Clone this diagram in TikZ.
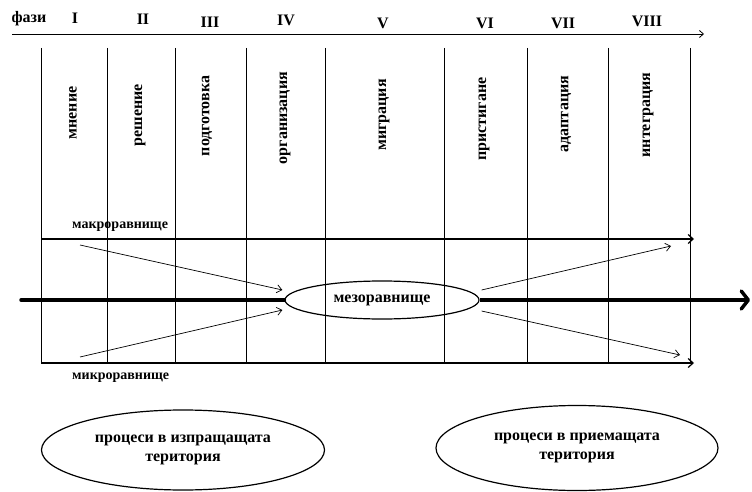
\documentclass[tikz,border=0pt]{standalone}
\usepackage{fontspec}
\setmainfont{Liberation Serif}
\usetikzlibrary{positioning}
\usetikzlibrary{arrows.meta}
\usetikzlibrary{shapes.geometric}

\begin{document}
\begin{tikzpicture}[x=1pt, y=-1pt,
    lbl/.style={font=\bfseries\fontsize{14}{16}\selectfont, inner sep=1pt},
    big/.style={font=\bfseries\fontsize{16}{19}\selectfont, inner sep=1pt},
    phase/.style={big, rotate=90},
    oval/.style={draw, ellipse, line width=1.2pt, big, align=center},
    thin/.style={line width=0.7pt, -{Straight Barb[length=5pt,width=8pt]}}
    ]
\useasboundingbox (0,0) rectangle (752,492);

% Phases axis
\coordinate (axisL) at (12,34);
\coordinate (axisR) at (704,34);
\draw[line width=0.8pt, -{Straight Barb[length=4pt,width=7pt]}] (axisL) -- (axisR);
\node[big] (phases) at (29,19) {фази};
\foreach \x/\y/\n/\t in {75/18/1/I, 143/19/2/II, 210/22/3/III, 286/20/4/IV,
                         383/23/5/V, 485/23/6/VI, 563/23/7/VII, 647/21/8/VIII}
    \node[big] (ph\n) at (\x,\y) {\t};

% Column separators
\foreach \x in {41,107,175,246,325,444,527,608,690}
    \draw[line width=0.8pt] (\x,48) -- (\x,363);

% Stage names
\node[phase] (opinion) at (73,113) {мнение};
\node[phase] (decision) at (140,115) {решение};
\node[phase] (prep) at (207,116) {подготовка};
\node[phase] (org) at (285,118) {организация};
\node[phase] (migr) at (384,115) {миграция};
\node[phase] (arrival) at (484,119) {пристигане};
\node[phase] (adapt) at (566,114) {адаптация};
\node[phase] (integr) at (648,115) {интеграция};

% Macro and micro levels
\coordinate (macroL) at (41,239);
\coordinate (macroR) at (694,239);
\coordinate (microL) at (41,363);
\coordinate (microR) at (694,363);
\draw[line width=1.2pt, -{Straight Barb[length=5pt,width=9pt]}] (macroL) -- (macroR);
\draw[line width=1.2pt, -{Straight Barb[length=5pt,width=9pt]}] (microL) -- (microR);
\node[lbl, anchor=west] (macro) at (71,227) {макроравнище};
\node[lbl, anchor=west] (micro) at (71,378) {микроравнище};

% Mezo level
\node[oval, minimum width=194pt, minimum height=38pt] (mezo) at (382,300) {мезоравнище};
\coordinate (mainL) at (21,300);
\coordinate (mainR) at (750,300);
\draw[line width=3.5pt, line cap=round] (mainL) -- (mezo.west);
\draw[line width=3.5pt, -{Straight Barb[length=7pt,width=18pt,round]}] (mezo.east) -- (mainR);

% Arrows to and from the mezo level
\coordinate (macroOut) at (80,245);
\coordinate (microOut) at (80,357);
\coordinate (macroIn) at (671,246);
\coordinate (microIn) at (680,355);
\draw[thin] (macroOut) -- ([shift={(-2,-10)}]mezo.west);
\draw[thin] (microOut) -- ([shift={(-2,10)}]mezo.west);
\draw[thin] ([shift={(2,-10)}]mezo.east) -- (macroIn);
\draw[thin] ([shift={(2,11)}]mezo.east) -- (microIn);

% Territories
\node[oval, minimum width=283pt, minimum height=80pt] (sending) at (183,450)
    {процеси в изпращащата\\територия};
\node[oval, minimum width=282pt, minimum height=85pt] (receiving) at (577,448)
    {процеси в приемащата\\територия};

\end{tikzpicture}
\end{document}
